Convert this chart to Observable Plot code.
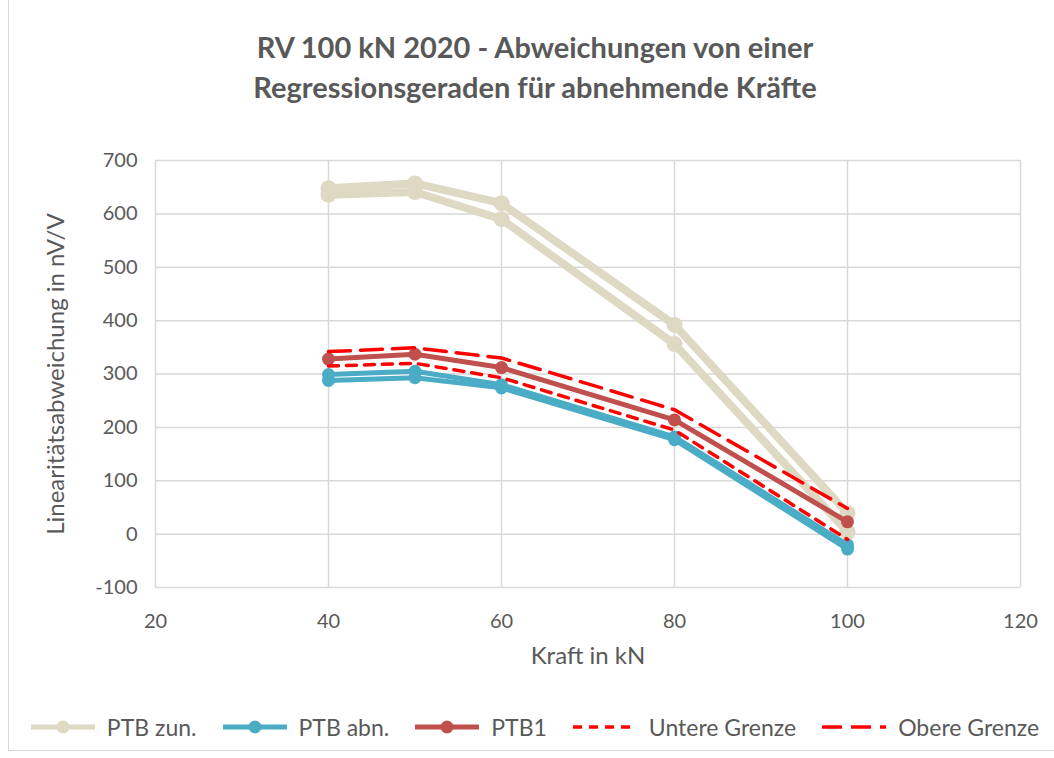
<!DOCTYPE html>
<html>
<head>
<meta charset="utf-8">
<script src="https://cdn.jsdelivr.net/npm/d3@7"></script>
<script src="https://cdn.jsdelivr.net/npm/@observablehq/plot@0.6"></script>
<style>
  html, body { margin: 0; padding: 0; background: #fff; }
  body { width: 1054px; height: 758px; position: relative; overflow: hidden; font-family: Lato, "Open Sans", sans-serif; }
  #border { position: absolute; left: 8px; top: -2px; width: 1060px; height: 753px; border: 1px solid #d9d9d9; box-sizing: border-box; pointer-events: none; }
  #title { position: absolute; left: 0; top: 27px; width: 1070px; text-align: center; color: #595959; font-size: 29px; font-weight: bold; line-height: 40px; }
  #chart { position: absolute; left: 0; top: 110px; }
  #legend { position: absolute; left: 0; top: 713px; width: 1070px; display: flex; justify-content: center; align-items: center; color: #595959; font-size: 23px; }
  .item { display: flex; align-items: center; margin: 0 13px; }
  .item svg { margin-right: 12px; }
</style>
</head>
<body>
<div id="border"></div>
<div id="title">RV 100 kN 2020 - Abweichungen von einer<br>Regressionsgeraden für abnehmende Kräfte</div>
<div id="chart"></div>
<div id="legend"></div>
<script>
// ---- data ----
const forces   = [40, 50, 60, 80, 100];
const ptbZunA  = [648, 657, 620, 392, 39];
const ptbZunB  = [636, 641, 590, 356, 4];
const ptbAbnA  = [299, 305, 280, 182, -20];
const ptbAbnB  = [288, 293, 274, 177, -28];
const ptb1     = [328, 337, 312, 214, 23];
const untere   = [315, 320, 293, 195, -10];
const obere    = [342, 349, 330, 233, 48];
const xTicks   = [20, 40, 60, 80, 100, 120];
const yTicks   = [-100, 0, 100, 200, 300, 400, 500, 600, 700];
const xLabel = "Kraft in kN";
const yLabel = "Linearitätsabweichung in nV/V";
const seriesNames = ["PTB zun.", "PTB abn.", "PTB1", "Untere Grenze", "Obere Grenze"];
const colors = {"PTB zun.": "#ddd9c3", "PTB abn.": "#4bacc6", "PTB1": "#c0504d", "Untere Grenze": "#ff0000", "Obere Grenze": "#ff0000"};

const toRows = (vals, series, run) => forces.map((f, i) => ({x: f, y: vals[i], series, run}));
const zun = [...toRows(ptbZunA, "PTB zun.", "a"), ...toRows(ptbZunB, "PTB zun.", "b")];
const abn = [...toRows(ptbAbnA, "PTB abn.", "a"), ...toRows(ptbAbnB, "PTB abn.", "b")];
const p1 = toRows(ptb1, "PTB1", "a");
const unt = toRows(untere, "Untere Grenze", "a");
const obe = toRows(obere, "Obere Grenze", "a");

const chart = Plot.plot({
  width: 1054,
  height: 580,
  marginLeft: 155,
  marginRight: 34,
  marginTop: 50,
  marginBottom: 103,
  style: {fontFamily: "Lato, 'Open Sans', sans-serif", color: "#595959", background: "transparent"},
  x: {domain: [20, 120]},
  y: {domain: [-100, 700]},
  marks: [
    Plot.gridX(xTicks, {stroke: "#d9d9d9", strokeOpacity: 1, strokeWidth: 1.5}),
    Plot.gridY(yTicks, {stroke: "#d9d9d9", strokeOpacity: 1, strokeWidth: 1.5}),
    Plot.axisX(xTicks, {tickSize: 0, tickPadding: 26, fontSize: 20, fill: "#595959", tickFormat: d => String(d), label: null}),
    Plot.axisY(yTicks, {tickSize: 0, tickPadding: 18, fontSize: 20, fill: "#595959", tickFormat: d => String(d), label: null}),
    Plot.text([xLabel], {text: d => d, frameAnchor: "bottom", textAnchor: "middle", dy: 76, fontSize: 24, fill: "#595959"}),
    Plot.text([yLabel], {text: d => d, frameAnchor: "left", textAnchor: "middle", dx: -99, rotate: -90, fontSize: 24, fill: "#595959"}),
    Plot.line(zun, {x: "x", y: "y", z: "run", stroke: colors["PTB zun."], strokeWidth: 8}),
    Plot.dot(zun, {x: "x", y: "y", r: 8, fill: colors["PTB zun."]}),
    Plot.line(abn, {x: "x", y: "y", z: "run", stroke: colors["PTB abn."], strokeWidth: 5}),
    Plot.dot(abn, {x: "x", y: "y", r: 6.5, fill: colors["PTB abn."]}),
    Plot.line(p1, {x: "x", y: "y", stroke: colors["PTB1"], strokeWidth: 5}),
    Plot.dot(p1, {x: "x", y: "y", r: 6.5, fill: colors["PTB1"]}),
    Plot.line(unt, {x: "x", y: "y", stroke: colors["Untere Grenze"], strokeWidth: 3.5, strokeDasharray: "10,8"}),
    Plot.line(obe, {x: "x", y: "y", stroke: colors["Obere Grenze"], strokeWidth: 3.5, strokeDasharray: "22,10"})
  ]
});
document.getElementById("chart").appendChild(chart);

// legend
const legend = document.getElementById("legend");
const dashes = {"Untere Grenze": "9,7", "Obere Grenze": "20,9"};
for (const name of seriesNames) {
  const item = document.createElement("div");
  item.className = "item";
  const ns = "http://www.w3.org/2000/svg";
  const svg = document.createElementNS(ns, "svg");
  svg.setAttribute("width", 64); svg.setAttribute("height", 20);
  const line = document.createElementNS(ns, "line");
  line.setAttribute("x1", 0); line.setAttribute("x2", 64);
  line.setAttribute("y1", 10); line.setAttribute("y2", 10);
  line.setAttribute("stroke", colors[name]);
  line.setAttribute("stroke-width", dashes[name] ? 3.5 : 5);
  if (dashes[name]) line.setAttribute("stroke-dasharray", dashes[name]);
  svg.appendChild(line);
  if (!dashes[name]) {
    const c = document.createElementNS(ns, "circle");
    c.setAttribute("cx", 32); c.setAttribute("cy", 10); c.setAttribute("r", 6.5);
    c.setAttribute("fill", colors[name]);
    svg.appendChild(c);
  }
  item.appendChild(svg);
  const t = document.createElement("span");
  t.textContent = name;
  item.appendChild(t);
  legend.appendChild(item);
}
</script>
</body>
</html>
